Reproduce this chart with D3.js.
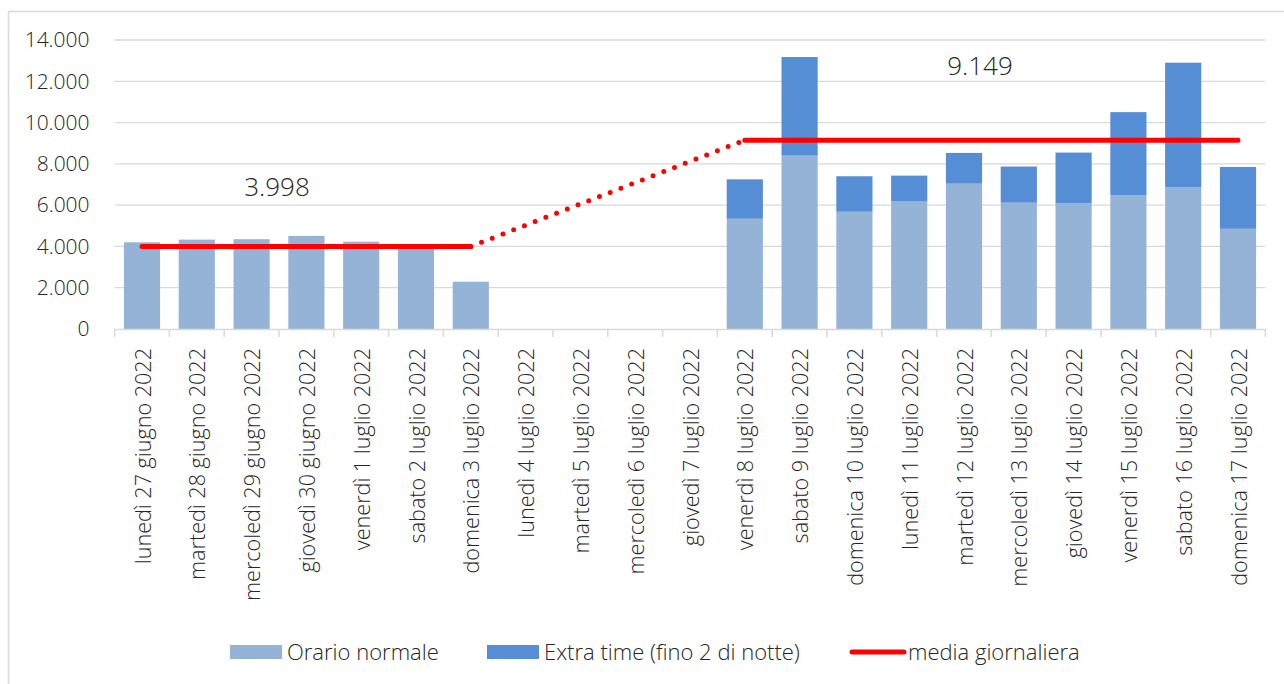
<!DOCTYPE html>
<html>
<head>
<meta charset="utf-8">
<script src="https://cdn.jsdelivr.net/npm/d3@7"></script>
<style>
  body { margin: 0; background: #fff; }
  text { font-family: "Open Sans", sans-serif; font-weight: 300; fill: #262626; }
</style>
</head>
<body>
<svg id="chart" width="1284" height="684"></svg>
<script>
// dati
var giorni = ["lunedì 27 giugno 2022", "martedì 28 giugno 2022", "mercoledì 29 giugno 2022",
  "giovedì 30 giugno 2022", "venerdì 1 luglio 2022", "sabato 2 luglio 2022", "domenica 3 luglio 2022",
  "lunedì 4 luglio 2022", "martedì 5 luglio 2022", "mercoledì 6 luglio 2022", "giovedì 7 luglio 2022",
  "venerdì 8 luglio 2022", "sabato 9 luglio 2022", "domenica 10 luglio 2022", "lunedì 11 luglio 2022",
  "martedì 12 luglio 2022", "mercoledì 13 luglio 2022", "giovedì 14 luglio 2022", "venerdì 15 luglio 2022",
  "sabato 16 luglio 2022", "domenica 17 luglio 2022"];

var orarioNormale = [4200, 4330, 4350, 4510, 4230, 4080, 2290, 0, 0, 0, 0,
  5340, 8400, 5680, 6200, 7040, 6120, 6085, 6475, 6860, 4855];
var extraTime = [0, 0, 0, 0, 0, 0, 0, 0, 0, 0, 0,
  1910, 4775, 1720, 1230, 1490, 1750, 2460, 4030, 6040, 2995];
var mediaGiornaliera = [3998, 3998, 3998, 3998, 3998, 3998, 3998, null, null, null, null,
  9149, 9149, 9149, 9149, 9149, 9149, 9149, 9149, 9149, 9149];

var yTicks = [0, 2000, 4000, 6000, 8000, 10000, 12000, 14000];
var mediaLabels = ["3.998", "9.149"];
var legendLabels = ["Orario normale", "Extra time (fino 2 di notte)", "media giornaliera"];

var colNormale = "#95b3d7";
var colExtra = "#558ed5";
var colMedia = "#ff0000";
var grigio = "#d9d9d9";

var svg = d3.select("#chart");
// NB: "top" is taken by window.top, so plotTop
var plotLeft = 114.6, plotRight = 1265.4, plotTop = 40, plotBottom = 329;

// formato italiano con il punto per le migliaia
var it = d3.formatLocale({ decimal: ",", thousands: ".", grouping: [3], currency: ["€", ""] });
var fmt = it.format(",d");

var x = d3.scaleBand().domain(giorni).range([plotLeft, plotRight]).padding(0);
var step = x.step();
var y = d3.scaleLinear().domain([0, 14000]).range([plotBottom, plotTop]);

// cornice
svg.append("rect")
  .attr("x", 8.5).attr("y", 11.5)
  .attr("width", 1400).attr("height", 800)
  .attr("fill", "none").attr("stroke", grigio).attr("stroke-width", 1.5);

// griglia
svg.append("g").selectAll("line")
  .data(yTicks.slice(1))
  .enter().append("line")
    .attr("x1", plotLeft).attr("x2", plotRight)
    .attr("y1", function(d) { return y(d); })
    .attr("y2", function(d) { return y(d); })
    .attr("stroke", grigio).attr("stroke-width", 1.3);

// asse y
var yAxis = svg.append("g")
  .attr("transform", "translate(" + plotLeft + ",0)")
  .call(d3.axisLeft(y).tickValues(yTicks).tickFormat(fmt).tickSize(0).tickPadding(25));
yAxis.select(".domain").remove();
yAxis.attr("font-family", null);
yAxis.selectAll("text")
  .style("font-size", "21px")
  .attr("fill", "#262626");

// barre impilate
var stackData = giorni.map(function(g, i) {
  return { giorno: g, normale: orarioNormale[i], extra: extraTime[i] };
});
var series = d3.stack().keys(["normale", "extra"])(stackData);
var colori = { normale: colNormale, extra: colExtra };
var barPad = step * 0.17;

svg.append("g").selectAll("g")
  .data(series)
  .enter().append("g")
    .attr("fill", function(s) { return colori[s.key]; })
  .selectAll("rect")
  .data(function(s) { return s; })
  .enter().append("rect")
    .attr("x", function(d) { return x(d.data.giorno) + barPad; })
    .attr("width", step - 2 * barPad)
    .attr("y", function(d) { return y(d[1]); })
    .attr("height", function(d) { return y(d[0]) - y(d[1]); });

// asse x
svg.append("line")
  .attr("x1", plotLeft).attr("x2", plotRight)
  .attr("y1", plotBottom + 0.5).attr("y2", plotBottom + 0.5)
  .attr("stroke", grigio).attr("stroke-width", 1.5);

var tickPos = giorni.map(function(g) { return x(g); }).concat([plotRight]);
svg.append("g").selectAll("line")
  .data(tickPos)
  .enter().append("line")
    .attr("x1", function(d) { return d; }).attr("x2", function(d) { return d; })
    .attr("y1", plotBottom).attr("y2", plotBottom + 8)
    .attr("stroke", grigio).attr("stroke-width", 1.5);

svg.append("g").selectAll("text")
  .data(giorni)
  .enter().append("text")
    .attr("transform", function(d) {
      return "translate(" + (x(d) + step / 2 + 1) + "," + (plotBottom + 19) + ") rotate(-90)";
    })
    .attr("text-anchor", "end")
    .attr("dy", "0.35em")
    .style("font-size", "21.6px")
    .text(function(d) { return d; });

// media giornaliera
var linea = d3.line()
  .defined(function(d) { return d != null; })
  .x(function(d, i) { return x(giorni[i]) + step / 2; })
  .y(function(d) { return y(d); });

svg.append("path")
  .datum(mediaGiornaliera)
  .attr("d", linea)
  .attr("fill", "none").attr("stroke", colMedia)
  .attr("stroke-width", 5).attr("stroke-linecap", "round");

// tratto punteggiato sui giorni senza dati
var ultimo = 6, primo = 11;
svg.append("path")
  .datum([ultimo, primo])
  .attr("d", d3.line()
    .x(function(i) { return x(giorni[i]) + step / 2; })
    .y(function(i) { return y(mediaGiornaliera[i]); }))
  .attr("fill", "none").attr("stroke", colMedia)
  .attr("stroke-width", 5).attr("stroke-linecap", "round")
  .attr("stroke-dasharray", "0 11.5").attr("stroke-dashoffset", -11.5);

// etichette delle medie
svg.append("text")
  .attr("x", 277).attr("y", 196)
  .attr("text-anchor", "middle").style("font-size", "26px")
  .text(mediaLabels[0]);
svg.append("text")
  .attr("x", 980).attr("y", 75)
  .attr("text-anchor", "middle").style("font-size", "26px")
  .text(mediaLabels[1]);

// legenda
var legY = 652;
var legX = [230, 487, 850];
var leg = svg.append("g");
leg.append("rect").attr("x", legX[0]).attr("y", legY - 7).attr("width", 52).attr("height", 14).attr("fill", colNormale);
leg.append("rect").attr("x", legX[1]).attr("y", legY - 7).attr("width", 52).attr("height", 14).attr("fill", colExtra);
leg.append("line").attr("x1", legX[2] + 2).attr("x2", legX[2] + 54)
  .attr("y1", legY).attr("y2", legY)
  .attr("stroke", colMedia).attr("stroke-width", 5).attr("stroke-linecap", "round");

leg.selectAll("text")
  .data(legendLabels)
  .enter().append("text")
    .attr("x", function(d, i) { return legX[i] + (i == 2 ? 58 : 57); })
    .attr("y", legY)
    .attr("dy", "0.35em")
    .style("font-size", "22px")
    .text(function(d) { return d; });
</script>
</body>
</html>
